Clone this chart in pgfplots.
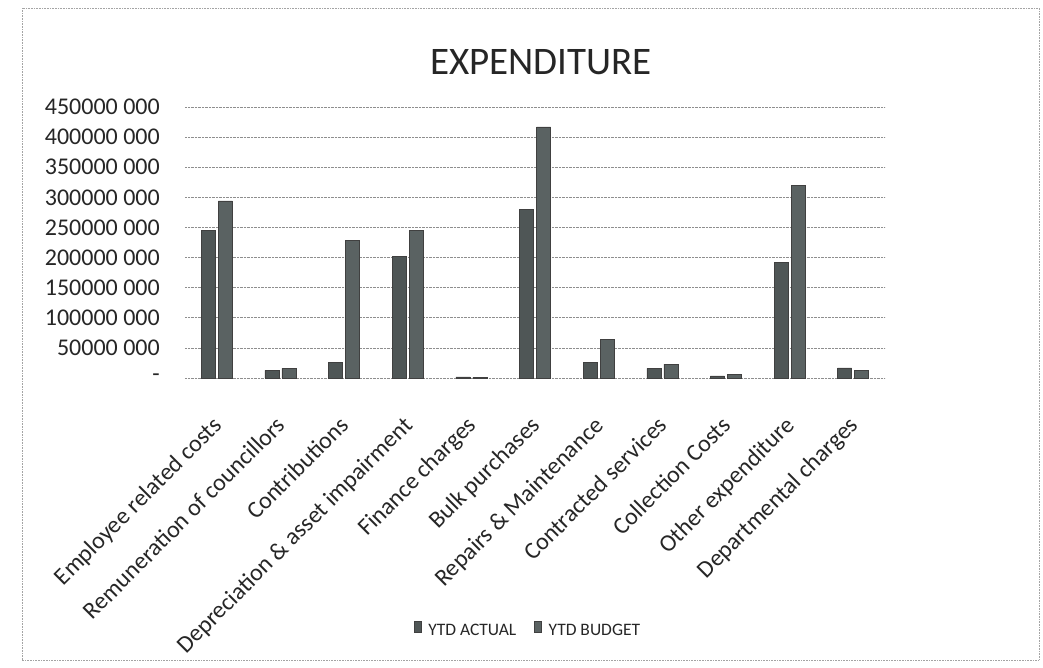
\documentclass[border=0pt]{standalone}
\usepackage{pgfplots}
\pgfplotsset{compat=1.18}
\usepackage{fontspec}
\setmainfont{Carlito}

\definecolor{barA}{HTML}{4F5656}
\definecolor{barB}{HTML}{5A6262}
\definecolor{gridc}{HTML}{8E8E8E}

\begin{document}
\begin{tikzpicture}
% page frame
\path[use as bounding box] (0pt,0pt) rectangle (1043pt,667pt);
\draw[gridc!80, densely dotted, line width=0.6pt] (22pt,7pt) rectangle (1039pt,659pt);

\node[font=\fontsize{39}{41}\selectfont, text=black!85] at (541pt,605pt) {EXPENDITURE};

\begin{axis}[
  at={(185pt,289pt)}, anchor=south west,
  scale only axis, width=700pt, height=271pt,
  ybar=3pt, bar width=14pt,
  xmin=-0.5, xmax=10.5,
  ymin=0, ymax=450000000,
  scaled y ticks=false,
  axis line style={draw=none},
  ymajorgrids, grid style={gridc, densely dotted, line width=0.7pt},
  xtick=data,
  xticklabels={Employee related costs, Remuneration of councillors, Contributions,
    Depreciation \& asset impairment, Finance charges, Bulk purchases,
    Repairs \& Maintenance, Contracted services, Collection Costs,
    Other expenditure, Departmental charges},
  x tick label style={rotate=45, anchor=north east, inner sep=0pt, yshift=-22pt, xshift=-30pt,
    font=\fontsize{24}{26}\selectfont, text=black!85},
  ytick={0,50000000,100000000,150000000,200000000,250000000,300000000,350000000,400000000,450000000},
  yticklabels={-\hspace{17pt}, 50000 000, 100000 000, 150000 000, 200000 000, 250000 000,
    300000 000, 350000 000, 400000 000, 450000 000},
  y tick label style={anchor=east, inner sep=0pt, xshift=-25pt,
    font=\fontsize{24}{26}\selectfont, text=black!85},
  major tick length=0pt,
  legend columns=2,
  legend style={at={(0.49,-0.93)}, anchor=center, draw=none, fill=none,
    font=\fontsize{17.5}{19}\selectfont, text=black!85,
    /tikz/every even column/.append style={column sep=16pt}},
  legend image code/.code={\fill[#1] (0pt,-2pt) rectangle (7pt,9pt);},
]
\addplot[fill=barA, draw=black!75] coordinates {
  (0,245000000) (1,12500000) (2,25500000) (3,202000000) (4,2000000)
  (5,280000000) (6,26000000) (7,16000000) (8,3500000) (9,192000000) (10,17000000)};
\addplot[fill=barB, draw=black!75] coordinates {
  (0,294000000) (1,16000000) (2,229000000) (3,245000000) (4,1500000)
  (5,417000000) (6,64000000) (7,23000000) (8,5500000) (9,320000000) (10,13000000)};
\legend{\hspace{5pt}YTD ACTUAL, \hspace{5pt}YTD BUDGET}
\end{axis}
\end{tikzpicture}
\end{document}
